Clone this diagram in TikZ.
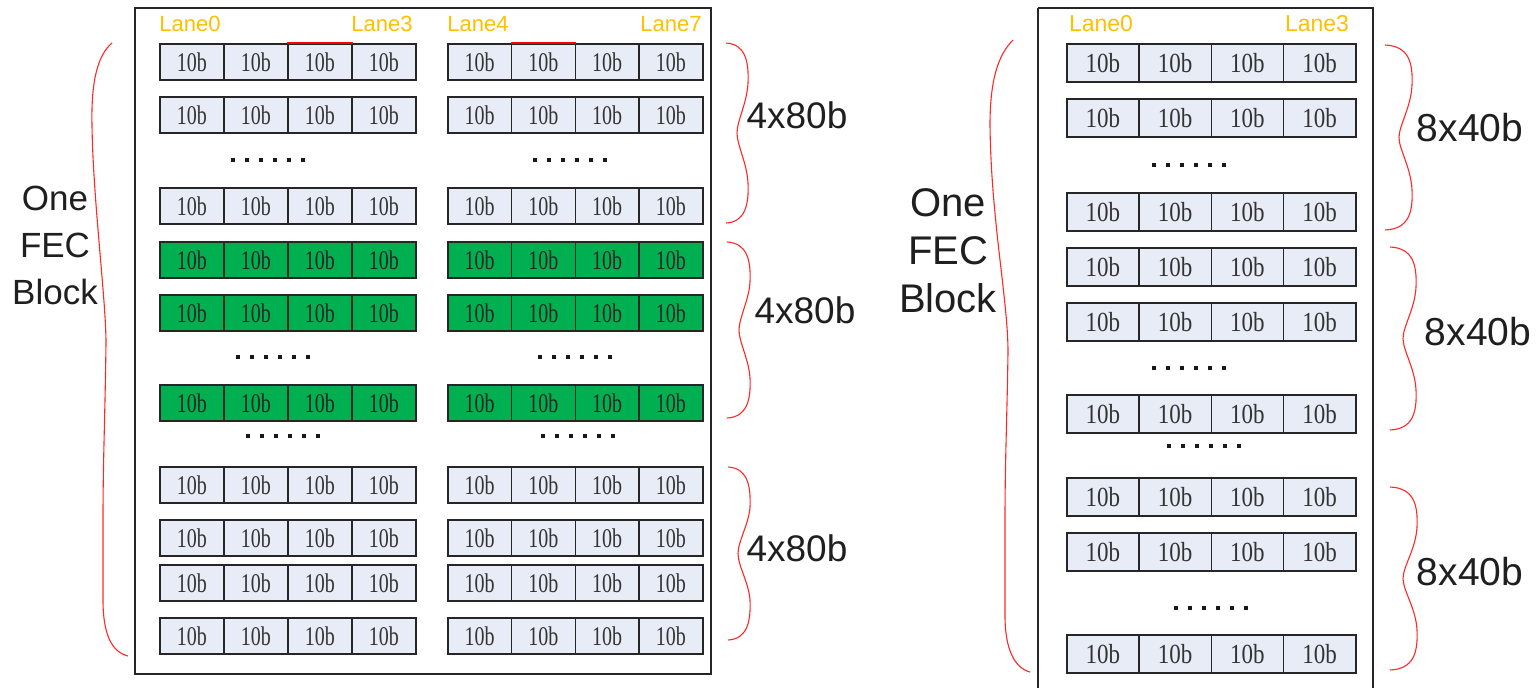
\documentclass[tikz,border=0pt]{standalone}
\usepackage{fontspec}
\usepackage{graphicx}
\setmainfont{Liberation Serif}
\newfontfamily\labfont{Liberation Sans}
\definecolor{cellfill}{HTML}{E7ECF6}
\definecolor{greenfill}{HTML}{00B050}
\definecolor{lanecol}{HTML}{FFC000}
\definecolor{bracecol}{HTML}{FF2828}
\definecolor{celltxt}{HTML}{333333}
\definecolor{framecol}{HTML}{262626}
\newcommand{\tenb}[1]{\scalebox{1}[#1]{10b}}
\newcommand{\rbr}[5]{% x0, xbulge, xcusp, ytop, ybottom
  \draw[bracepath] (#1,#4) .. controls ({#2-3},{#4+1}) and ({#2+1},{#4+18}) .. (#2,{#4+40})
    .. controls ({#2-1},{(#4+#5)/2-30}) and (#3,{(#4+#5)/2-12}) .. (#3,{(#4+#5)/2})
    .. controls (#3,{(#4+#5)/2+12}) and ({#2-1},{(#4+#5)/2+30}) .. (#2,{#5-40})
    .. controls ({#2+1},{#5-18}) and ({#2-3},{#5-1}) .. (#1,#5);}
\tikzset{
  lcell/.style={draw=framecol, line width=1.7pt, fill=cellfill, inner sep=0pt,
    minimum width=64pt, minimum height=36pt, anchor=north west,
    font=\fontsize{20}{20}\selectfont, text=celltxt},
  gcell/.style={lcell, fill=greenfill, text=black!85},
  rcell/.style={lcell, minimum width=72.25pt, minimum height=38pt,
    font=\fontsize{23}{23}\selectfont},
  frame/.style={draw=framecol, line width=1.6pt},
  bracepath/.style={draw=bracecol, line width=1.1pt},
  lane/.style={text=lanecol, font=\labfont\fontsize{22}{22}\selectfont, inner sep=0pt},
  lsize/.style={text=black!88, font=\labfont\fontsize{37}{37}\selectfont, inner sep=0pt},
  rsize/.style={text=black!88, font=\labfont\fontsize{39}{39}\selectfont, inner sep=0pt},
  dotrow/.pic={\foreach \i in {0,...,5} \fill[black!90] ({14*\i-37},-2) rectangle ++(4,4);}
}
\begin{document}
\begin{tikzpicture}[x=1pt,y=-1pt]
\useasboundingbox (0,0) rectangle (1537,688);
\fill[white] (0,0) rectangle (1537,688);

% ===== Left panel =====
\draw[frame] (135,8) rectangle (711,674);
\foreach \t [count=\r] in {43,96,187,466,519,564,617} {
  \foreach \c in {0,...,3} {
    \node[lcell] (A\r-\c) at ({159+64*\c},\t) {\tenb{1.35}};
    \node[lcell, minimum width=63.75pt] (B\r-\c) at ({447+63.75*\c},\t) {\tenb{1.35}};
  }
}
\foreach \t [count=\r] in {241,294,384} {
  \foreach \c in {0,...,3} {
    \node[gcell] (GA\r-\c) at ({159+64*\c},\t) {\tenb{1.35}};
    \node[gcell, minimum width=63.75pt] (GB\r-\c) at ({447+63.75*\c},\t) {\tenb{1.35}};
  }
}
\draw[red, line width=2pt] (A1-2.north west) -- (A1-2.north east);
\draw[red, line width=2pt] (B1-1.north west) -- (B1-1.north east);

\node[lane] (l0) at (190,24) {Lane0};
\node[lane] (l3) at (382,24) {Lane3};
\node[lane] (l4) at (478,24) {Lane4};
\node[lane] (l7) at (671,24) {Lane7};

\pic at (268,160) {dotrow};
\pic at (570,160) {dotrow};
\pic at (273,357) {dotrow};
\pic at (575,357) {dotrow};
\pic at (283,436) {dotrow};
\pic at (578,436) {dotrow};

\rbr{726}{748}{737}{43}{223}
\rbr{727}{750}{739}{242}{418}
\rbr{728}{750}{738}{467}{640}
\node[lsize] (s1) at (797,115) {4x80b};
\node[lsize] (s2) at (805,310) {4x80b};
\node[lsize] (s3) at (797,548) {4x80b};

\draw[bracepath] (112,43) .. controls (98,55) and (91,80) .. (92,125)
  .. controls (93,200) and (106,300) .. (106,343)
  .. controls (105,420) and (103,460) .. (103,520) -- (103,600)
  .. controls (103,635) and (112,652) .. (128,656);
\node[align=center, text=black!88, font=\labfont\fontsize{35}{47}\selectfont, inner sep=0pt] (fecL) at (55,245) {One\\FEC\\Block};

% ===== Right panel =====
\draw[frame] (1038,8) -- (1038,700);
\draw[frame] (1038,8) -- (1373,8) -- (1373,700);
\foreach \t [count=\r] in {43,98,192,247,302,394,477,532,634} {
  \foreach \c in {0,...,3} {
    \node[rcell] (R\r-\c) at ({1066+72.25*\c},\t) {\tenb{1.2}};
  }
}
\node[lane, font=\labfont\fontsize{23}{23}\selectfont] (rl0) at (1101,24) {Lane0};
\node[lane, font=\labfont\fontsize{23}{23}\selectfont] (rl3) at (1317,24) {Lane3};

\pic at (1189,165) {dotrow};
\pic at (1189,368) {dotrow};
\pic at (1204,446) {dotrow};
\pic at (1211,608) {dotrow};

\rbr{1385}{1412}{1399}{45}{230}
\rbr{1390}{1416}{1403}{247}{430}
\rbr{1390}{1417}{1403}{487}{670}
\node[rsize] (t1) at (1470,128) {8x40b};
\node[rsize] (t2) at (1478,332) {8x40b};
\node[rsize] (t3) at (1470,572) {8x40b};

\draw[bracepath] (1013,40) .. controls (998,55) and (990,80) .. (990,125)
  .. controls (991,220) and (1008,300) .. (1008,352)
  .. controls (1007,420) and (1005,460) .. (1005,520) -- (1005,616)
  .. controls (1005,650) and (1015,668) .. (1030,672);
\node[align=center, text=black!88, font=\labfont\fontsize{40}{48}\selectfont, inner sep=0pt] (fecR) at (948,251) {One\\FEC\\Block};
\end{tikzpicture}
\end{document}
